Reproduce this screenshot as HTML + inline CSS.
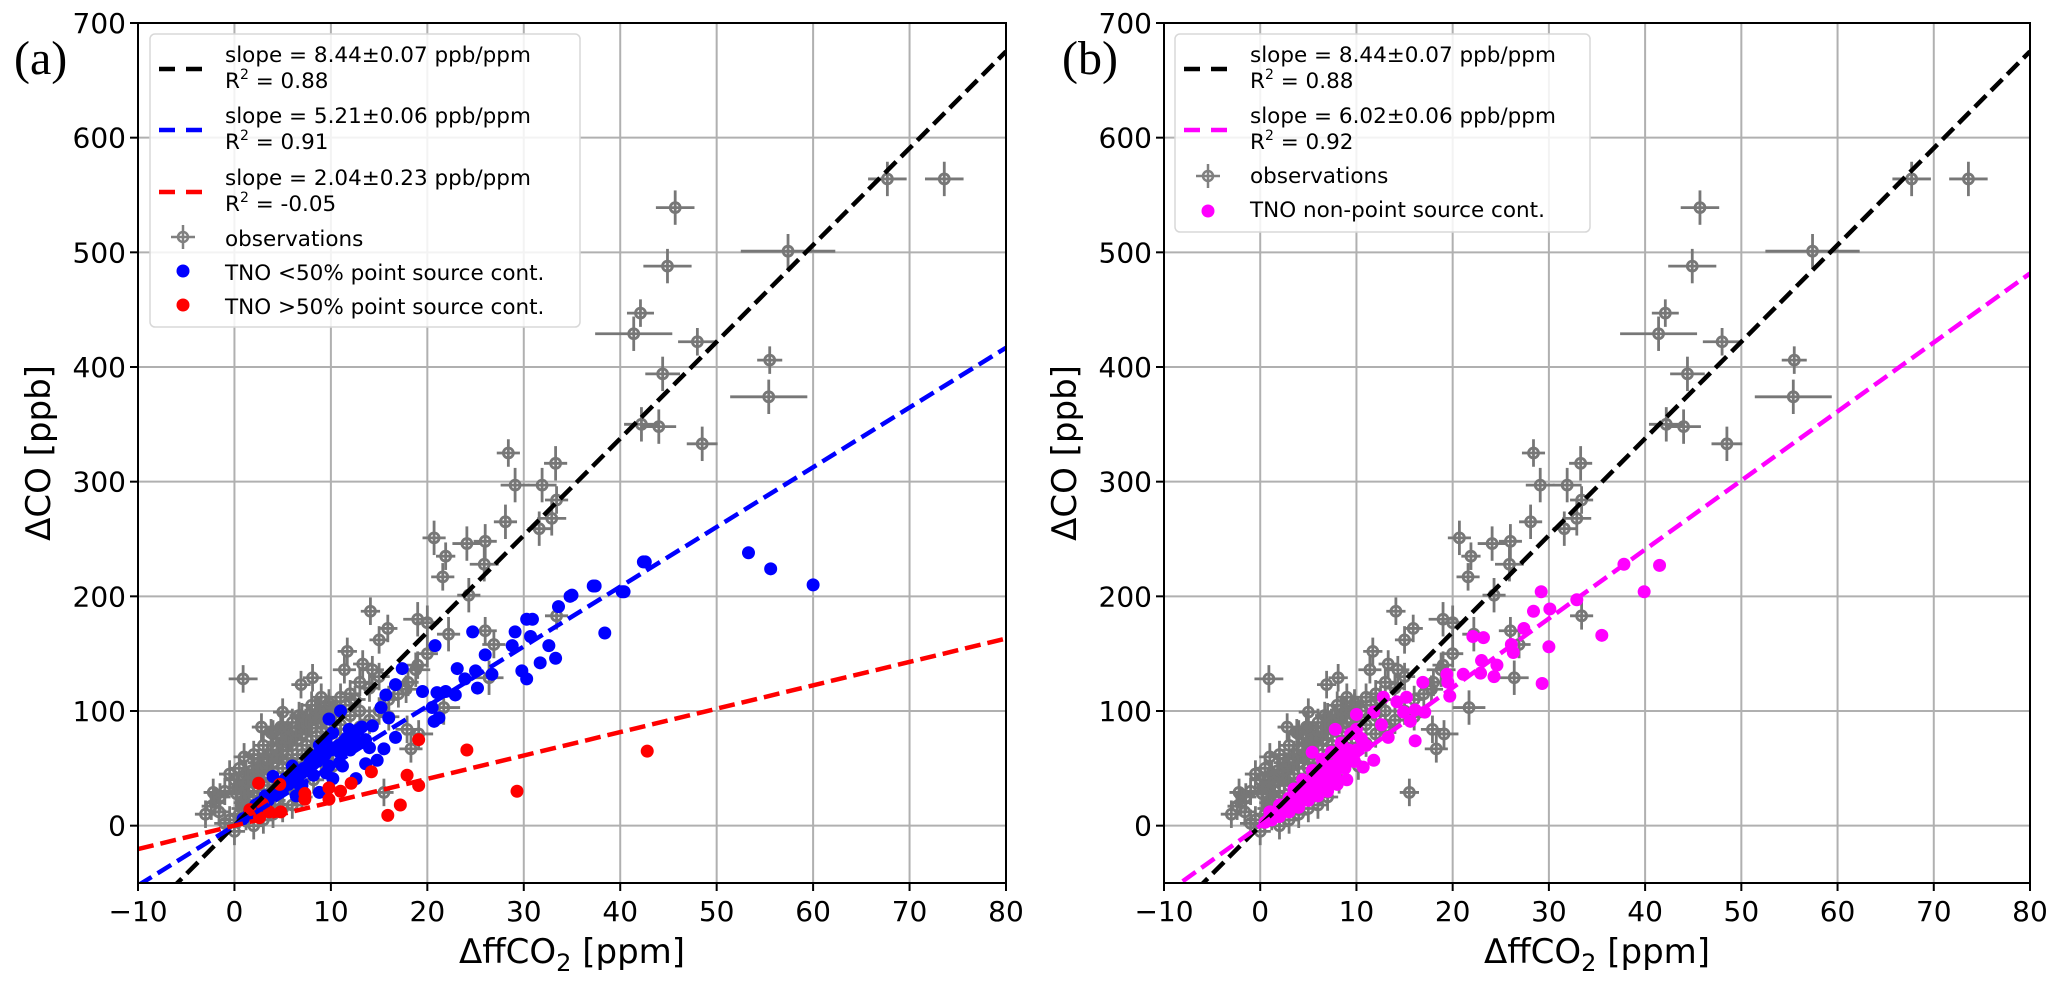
<!DOCTYPE html>
<html><head><meta charset="utf-8">
<style>
html,body{margin:0;padding:0;background:#fff;}
svg{display:block;font-family:"DejaVu Sans","Liberation Sans",sans-serif;}
</style></head>
<body>
<svg id="fig" width="2067" height="982" viewBox="0 0 2067 982" xmlns="http://www.w3.org/2000/svg"></svg>
<script>
// ---------- DATA ----------
const xTicks = [-10,0,10,20,30,40,50,60,70,80];
const yTicks = [0,100,200,300,400,500,600,700];
const fitSlopes = {black:8.44, blue:5.21, red:2.04, magenta:6.02};
const obsX = [45.7,67.7,73.6,57.4,44.9,42.1,41.4,48.0,55.5,44.4,55.4,42.2,44.0,48.5,28.4,33.3,29.1,31.9,33.4,28.1,31.6,32.9,20.7,24.1,26.0,21.9,25.9,21.6,24.3,14.1,15.9,15.0,19.0,20.0,22.2,26.0,26.9,26.4,33.4,11.7,13.3,8.1,6.9,0.9,11.4,14.3,18.8,17.8,21.7,17.9,19.1,18.3,15.5,5.0,2.8,4.8,9.8,8.4,6.7,3.8,-2.2,-2.4,-1.6];
const obsY = [539,564,564,501,488,447,429,422,406,394,374,350,348,333,325,316,297,297,284,265,259,268,251,246,248,235,228,217,201,187,172,162,180,177,167,170,158,129,183,152,141,129,123,128,136,136,136,119,103,84,80,67,29,99,86,86,107,101,96,81,29,17,12];
const obsXerr = [2,2,2,4.9,2.5,1.4,4,2,1.3,1.8,4,1.8,1.8,1.6,1.2,1.2,1.5,1.5,1.2,1.2,1.2,1.5,1.2,1.5,1.2,1,1.5,1.2,1.2,1,1,1,1.5,1.2,1.2,1.2,1.2,1.5,1.2,1,1,1,1,1.5,1.2,1.2,1.5,1.2,1.7,1.2,1.5,1.2,1,1,1,1,1,1,1,1,1,1,1];
const obsYerr = [15,15,15,15,15,12,15,12,12,15,15,15,15,15,12,15,15,15,12,15,15,15,15,15,15,12,15,12,15,12,12,12,15,15,15,12,12,15,12,12,12,12,12,12,12,12,15,12,15,12,12,12,12,12,12,12,12,12,12,12,12,12,12];
const clusterX = [1,1.5,2,2.5,3,3,3.5,4,4,4.5,5,5,5.5,6,6,6.5,7,7,7.5,8,8,8.5,9,9,9.5,10,10,10.5,11,11.5,12,12.5,13,0.5,0.8,1.2,2,-0.5,-1,-1.5,0,0.5,1,2,2.5,3,4,5,6,7,8,9,1,2,1.5,3,4,5,6,7,8,9,10,11,12,13,14,15,16,17,14,15,16,18,19,20,12,13,-2,-3,-1,0,2,3,4,5,6,7,-0.5,0.3,1.8,3.5,5.5,7.5,9.5,11,2.2,4.2,6.2,8.2,10.2,1.2,2.7,3.8,4.8,5.8,6.8,7.8,8.8,9.8,0.2,1.4,2.4,3.4,4.4,5.4,6.4,7.4,8.6];
const clusterY = [20,30,25,40,35,50,45,55,38,60,50,65,58,70,55,75,62,80,70,85,66,78,90,72,85,95,80,100,88,105,96,110,100,10,15,8,12,5,30,25,40,50,60,62,55,70,80,85,90,95,105,112,35,45,18,22,28,35,42,50,55,60,66,72,80,86,92,100,110,115,120,130,95,125,140,150,115,125,20,10,2,-5,0,5,10,15,18,25,45,33,48,62,74,88,98,112,15,22,30,40,52,45,52,62,72,78,86,92,100,104,28,38,48,58,66,76,82,90,96];
const blueX = [53.3,55.6,60.0,42.6,37.4,40.4,35.0,20.8,24.7,23.1,17.4,26.0,29.1,30.3,30.9,30.7,28.8,32.6,33.3,31.7,29.8,30.3,33.6,34.8,37.2,40.2,42.4,38.4,26.7,25.0,23.9,25.2,22.9,21.9,21.0,19.5,16.7,15.7,15.2,20.5,21.2,20.7,11.0,9.8,16.0,16.7,15.5,14.8,13.6,12.9,11.9,10.9,9.5,8.4,6.7,5.3,4.0,3.3,1.6,0.9,10.2,8.8,7.8,6.0,5.0,11.9,13.6,10.9,7.0,10.2,8.8,6.4,2.6,12.6,14.3,9.5,11.2,2.0,3.0,4.5,6.5,7.5,8.0,9.0,12.0,13.0,14.0,1.5,2.5,3.5,4.2,5.0,5.8,6.6,7.2,8.2,9.2,10.0,10.8,11.6,12.4,13.2,3.8,4.8,5.6,6.2,7.0,7.8,8.6,9.4,10.4,11.4,12.2,2.2,3.2,6.8,8.2,9.8];
const blueY = [238,224,210,230,209,204,201,157,169,137,137,149,169,180,180,165,157,157,146,142,135,128,191,200,209,204,230,168,132,135,128,120,114,117,116,117,123,114,103,103,94,91,100,93,94,77,67,57,54,84,70,55,46,61,46,41,43,23,12,6,81,70,55,52,32,84,75,64,35,41,29,26,20,41,87,75,52,14,22,28,38,48,58,62,66,72,68,10,16,22,30,34,40,44,50,54,60,66,70,76,80,86,26,30,36,42,46,52,56,62,68,74,78,18,26,36,44,52];
const redX = [19.1,24.1,42.8,29.3,14.2,17.9,19.1,17.2,15.9,12.1,11.0,9.8,9.8,7.3,7.3,4.8,4.7,2.5,2.9,3.6,2.6,1.6];
const redY = [75,66,65,30,47,44,35,18,9,37,30,33,23,28,23,12,36,37,19,12,7,14];
const magX = [37.8,41.5,39.9,29.2,32.9,30.1,28.4,27.4,35.5,30.0,26.1,26.3,22.1,23.2,23.0,24.6,24.3,22.9,21.1,29.3,19.4,19.5,19.7,16.9,15.2,14.2,12.8,14.9,16.1,17.1,15.6,16.1,10.0,11.8,12.6,13.3,10.0,7.8,11.8,10.7,5.4,0.5,1,1.5,2,2.5,3,3.5,4,4.5,5,5.5,6,6.5,7,7.5,8,8.5,9,9.5,10,1,2,3,4,5,6,7,8,9,2,3,4,5,6,7,8,9,6.5,8.5,3.5,5.5,1.2,1.8,2.3,2.8,3.2,3.8,4.2,4.8,5.2,5.8,6.2,6.8,7.2,7.8,8.2,8.8,9.2,9.8,10.5,11,4.4,5.4,6.4,7.4,8.4,9.4];
const magY = [228,227,204,204,197,189,187,172,166,156,158,151,165,164,144,140,130,133,132,124,132,125,113,125,112,108,112,99,101,99,91,74,97,99,88,77,84,84,57,51,64,3,8,12,14,18,20,24,28,30,34,36,40,42,46,50,52,56,60,62,66,12,18,24,30,36,42,48,54,60,8,12,16,22,26,30,36,40,56,70,32,48,5,10,16,14,22,20,30,26,38,32,44,38,52,44,60,50,66,56,76,70,40,48,58,64,72,80];

// ---------- DRAW ----------
const NS = "http://www.w3.org/2000/svg";
const svg = document.getElementById('fig');
function mk(tag, attrs, parent){ const e=document.createElementNS(NS,tag); for(const k in attrs) e.setAttribute(k,attrs[k]); (parent||svg).appendChild(e); return e; }

const Y0=23, Y1=883, XMIN=-10, XMAX=80, YMIN=-50, YMAX=700;
function panel(px0, px1, id){
  const sx = v => px0 + (v-XMIN)/(XMAX-XMIN)*(px1-px0);
  const sy = v => Y1 - (v-YMIN)/(YMAX-YMIN)*(Y1-Y0);
  const g = mk('g',{});
  
  
  const cp = mk('clipPath',{id:'clip'+id}, g);
  mk('rect',{x:px0,y:Y0,width:px1-px0,height:Y1-Y0},cp);
  xTicks.forEach(t=>{ const l=mk('line',{x1:sx(t),x2:sx(t),y1:Y0,y2:Y1,stroke:'#b0b0b0','stroke-width':2},g);
      });
  yTicks.forEach(t=>{ const l=mk('line',{x1:px0,x2:px1,y1:sy(t),y2:sy(t),stroke:'#b0b0b0','stroke-width':2},g);
      });
  const pg = mk('g',{'clip-path':'url(#clip'+id+')'},g);
  const og = mk('g',{stroke:'#777','stroke-width':2.8,fill:'none'},pg);
   
  function obs(x,y,xe,ye){
    mk('line',{x1:sx(x-xe),x2:sx(x+xe),y1:sy(y),y2:sy(y)},og);
    mk('line',{x1:sx(x),x2:sx(x),y1:sy(y-ye),y2:sy(y+ye)},og);
    const c=mk('circle',{cx:sx(x),cy:sy(y),r:5},og);
     
  }
  clusterX.forEach((x,i)=>obs(x,clusterY[i],1.1,12));
  obsX.forEach((x,i)=>obs(x,obsY[i],obsXerr[i],obsYerr[i]));
  function dots(xs,ys,col,name){
    const dg=mk('g',{fill:col},pg);
     
    xs.forEach((x,i)=>{ const c=mk('circle',{cx:sx(x),cy:sy(ys[i]),r:6.5},dg);
        });
  }
  function fit(slope,col,name){
    const l=mk('line',{x1:sx(XMIN),y1:sy(slope*XMIN),x2:sx(XMAX),y2:sy(slope*XMAX),stroke:col,'stroke-width':4.5,'stroke-dasharray':'16 7'},pg);
     
  }
  if(id==='a'){
    dots(blueX,blueY,'#0000ff','tno-low-point-source');
    dots(redX,redY,'#ff0000','tno-high-point-source');
    fit(fitSlopes.black,'#000','fit-line-observations');
    fit(fitSlopes.blue,'#0000ff','fit-line-blue');
    fit(fitSlopes.red,'#ff0000','fit-line-red');
  } else {
    dots(magX,magY,'#ff00ff','tno-non-point-source');
    fit(fitSlopes.black,'#000','fit-line-observations');
    fit(fitSlopes.magenta,'#ff00ff','fit-line-magenta');
  }
  const fr=mk('rect',{x:px0,y:Y0,width:px1-px0,height:Y1-Y0,fill:'none',stroke:'#000','stroke-width':2},g);
   
  xTicks.forEach(t=>{ mk('line',{x1:sx(t),x2:sx(t),y1:Y1,y2:Y1+8,stroke:'#000','stroke-width':2},g);
    const tx=mk('text',{x:sx(t),y:Y1+38,'text-anchor':'middle','font-size':28},g);
    tx.textContent = t<0 ? '\u2212'+Math.abs(t) : String(t);
      });
  yTicks.forEach(t=>{ mk('line',{x1:px0-8,x2:px0,y1:sy(t),y2:sy(t),stroke:'#000','stroke-width':2},g);
    const tx=mk('text',{x:px0-12,y:sy(t)+10,'text-anchor':'end','font-size':28},g);
    tx.textContent=String(t);
      });
  const xl=mk('text',{x:(px0+px1)/2,y:963,'text-anchor':'middle','font-size':34},g);
  xl.innerHTML='\u0394ffCO<tspan font-size="24" dy="8">2</tspan><tspan dy="-8"> [ppm]</tspan>';
   
  const yl=mk('text',{x:0,y:0,'text-anchor':'middle','font-size':34,transform:`translate(${px0-88},${(Y0+Y1)/2}) rotate(-90)`},g);
  yl.textContent='\u0394CO [ppb]';
   
  return g;
}
panel(138,1006,'a');
panel(1164,2030,'b');

const la=mk('text',{x:14,y:74,'font-size':48,'font-family':'"Liberation Serif",serif'}); la.textContent='(a)';
 
const lb=mk('text',{x:1062,y:74,'font-size':48,'font-family':'"Liberation Serif",serif'}); lb.textContent='(b)';
 

function legend(x0,y0,w,h,tx,entries,name){
  const g=mk('g',{});
   
  mk('rect',{x:x0,y:y0,width:w,height:h,rx:5,fill:'#fff','fill-opacity':0.85,stroke:'#d8d8d8','stroke-width':1.5},g);
  entries.forEach(e=>{
    const eg=mk('g',{},g);
     
    const hx=x0+9;
    if(e.type==='line'){ mk('line',{x1:hx,x2:hx+43,y1:e.hy,y2:e.hy,stroke:e.col,'stroke-width':4.5,'stroke-dasharray':'16 11'},eg); }
    else if(e.type==='obs'){ const cx=hx+24; mk('line',{x1:cx-12,x2:cx+12,y1:e.hy,y2:e.hy,stroke:'#808080','stroke-width':2.5},eg);
      mk('line',{x1:cx,x2:cx,y1:e.hy-12,y2:e.hy+12,stroke:'#808080','stroke-width':2.5},eg);
      mk('circle',{cx:cx,cy:e.hy,r:5,fill:'none',stroke:'#808080','stroke-width':2.5},eg); }
    else { mk('circle',{cx:hx+24,cy:e.hy,r:6.5,fill:e.col},eg); }
    e.lines.forEach((ln,i)=>{ const t=mk('text',{x:tx,y:e.by+i*26,'font-size':21.5},eg); t.innerHTML=ln; });
  });
}
const R2 = v=>'R<tspan font-size="14" dy="-9">2</tspan><tspan dy="9"> = '+v+'</tspan>';
legend(150,34,430,293,225,[
  {type:'line',col:'#000',hy:69,by:62,lines:['slope = 8.44\u00b10.07 ppb/ppm',R2('0.88')]},
  {type:'line',col:'#0000ff',hy:130,by:123,lines:['slope = 5.21\u00b10.06 ppb/ppm',R2('0.91')]},
  {type:'line',col:'#ff0000',hy:192,by:185,lines:['slope = 2.04\u00b10.23 ppb/ppm',R2('-0.05')]},
  {type:'obs',hy:237,by:246,lines:['observations']},
  {type:'dot',col:'#0000ff',hy:271,by:280,lines:['TNO &lt;50% point source cont.']},
  {type:'dot',col:'#ff0000',hy:305,by:314,lines:['TNO &gt;50% point source cont.']}
],'legend-a');
legend(1175,34,415,198,1250,[
  {type:'line',col:'#000',hy:69,by:62,lines:['slope = 8.44\u00b10.07 ppb/ppm',R2('0.88')]},
  {type:'line',col:'#ff00ff',hy:130,by:123,lines:['slope = 6.02\u00b10.06 ppb/ppm',R2('0.92')]},
  {type:'obs',hy:176,by:183,lines:['observations']},
  {type:'dot',col:'#ff00ff',hy:211,by:217,lines:['TNO non-point source cont.']}
],'legend-b');
</script>
</body></html>
